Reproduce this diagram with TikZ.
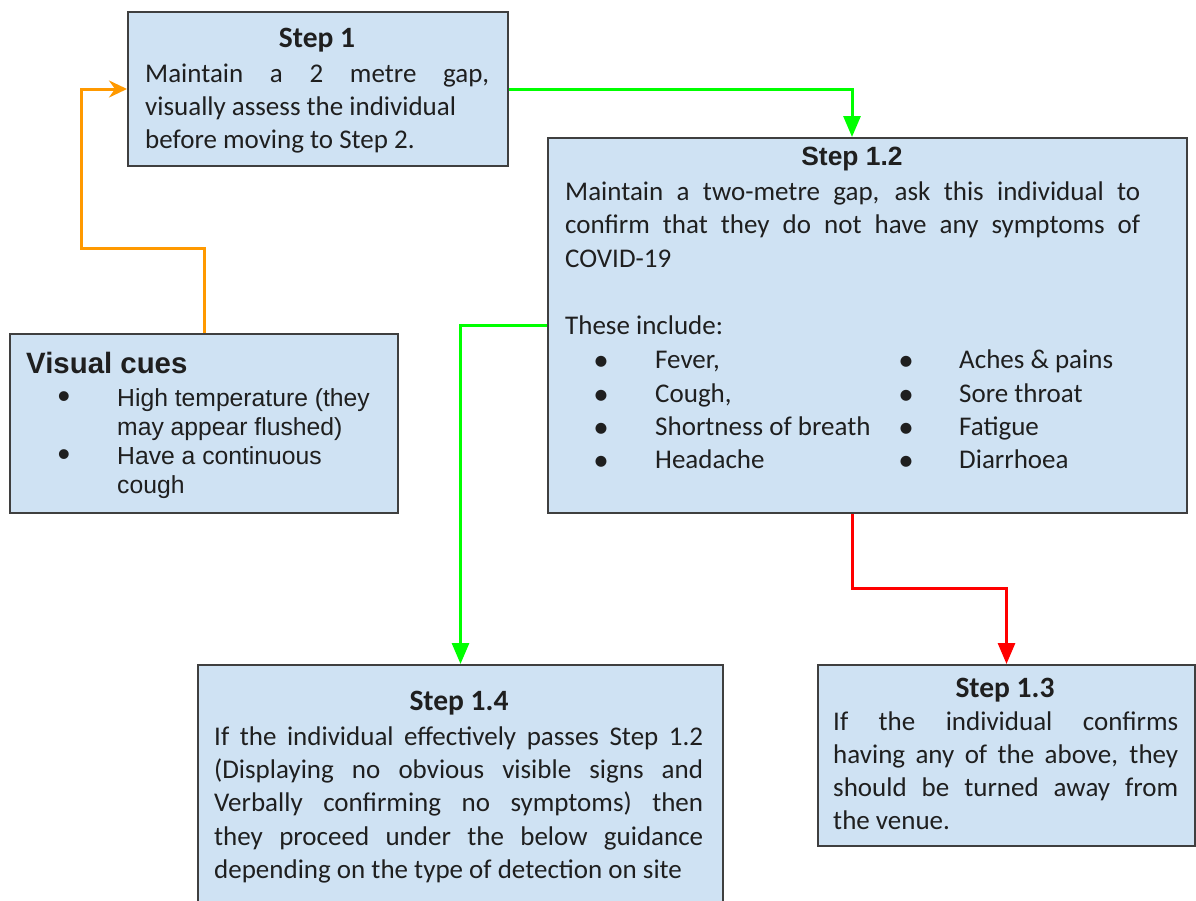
\documentclass[tikz,border=0pt]{standalone}
\usepackage{fontspec}
\setmainfont{Carlito}
\newfontfamily\arialf{Liberation Sans}
\usetikzlibrary{arrows.meta,calc}
\definecolor{boxfill}{HTML}{CFE2F3}
\definecolor{boxline}{HTML}{3F3F3F}
\definecolor{txtcol}{HTML}{1F1F1F}
\definecolor{orng}{HTML}{FF9900}
\definecolor{grn}{HTML}{00FF00}
\definecolor{rd}{HTML}{FF0000}
\newcommand\bodyfont{\fontsize{27}{33}\selectfont}
\newcommand\headfont{\bfseries\fontsize{29.5}{33}\selectfont}
\newcommand\jl[2]{\makebox[#1][s]{#2}}
\begin{document}
\begin{tikzpicture}[x=1pt,y=-1pt,
  box/.style={draw=boxline, fill=boxfill, line width=2pt, anchor=north west, inner sep=0pt},
  ln/.style={anchor=base west, inner sep=0pt, text=txtcol, font=\bodyfont},
  hd/.style={anchor=base, inner sep=0pt, text=txtcol, font=\headfont},
  cue/.style={anchor=base west, inner sep=0pt, text=txtcol, font=\arialf\fontsize{24.7}{29}\selectfont},
  cuebul/.style={anchor=base, inner sep=0pt, text=txtcol, font=\arialf\fontsize{36}{29}\selectfont},
  bul/.style={anchor=base, inner sep=0pt, text=txtcol, font=\fontsize{31}{33}\selectfont},
  conn/.style={line width=3pt, line join=miter},
  tri/.style={-{Triangle[width=17pt,length=21pt]}},
  opn/.style={-{Stealth[width=17pt,length=18pt,inset=6pt]}}]
\useasboundingbox (0,0) rectangle (1196,900);

% boxes
\node[box, minimum width=380pt, minimum height=154pt] (s1) at (127,11) {};
\node[box, minimum width=388pt, minimum height=179pt] (cues) at (9,333) {};
\node[box, minimum width=639pt, minimum height=375pt] (s12) at (547,137) {};
\node[box, minimum width=525pt, minimum height=262pt] (s14) at (197,664) {};
\node[box, minimum width=377pt, minimum height=181pt] (s13) at (817,664) {};

% Step 1
\node[hd] (s1h) at (317,47) {Step 1};
\node[ln] (s1a) at (145,82) {\jl{344pt}{Maintain a 2 metre gap,}};
\node[ln] (s1b) at (145,115) {visually assess the individual};
\node[ln] (s1c) at (145,148) {before moving to Step 2.};

% Visual cues
\node[anchor=base west, inner sep=0pt, text=txtcol, font=\arialf\bfseries\fontsize{29.4}{33}\selectfont] (cuesh) at (26,373) {Visual cues};
\node[cuebul] (cb1) at (64,408) {•};
\node[cue] (c1a) at (117,406) {High temperature (they};
\node[cue] (c1b) at (117,435) {may appear flushed)};
\node[cuebul] (cb2) at (64,466) {•};
\node[cue] (c2a) at (117,464) {Have a continuous};
\node[cue] (c2b) at (117,493) {cough};

% Step 1.2
\node[anchor=base, inner sep=0pt, text=txtcol, font=\arialf\bfseries\fontsize{26.4}{33}\selectfont] (s12h) at (852,165) {Step 1.2};
\node[ln] (s12a) at (565,200) {\jl{575pt}{Maintain a two-metre gap, ask this individual to}};
\node[ln] (s12b) at (565,233) {\jl{575pt}{confirm that they do not have any symptoms of}};
\node[ln] (s12c) at (565,267) {COVID-19};
\node[ln] (s12d) at (565,334) {These include:};
\node[bul] (b1) at (601,370) {•};
\node[ln] (i1) at (655,368) {Fever,};
\node[bul] (b2) at (601,404) {•};
\node[ln] (i2) at (655,402) {Cough,};
\node[bul] (b3) at (601,437) {•};
\node[ln] (i3) at (655,435) {Shortness of breath};
\node[bul] (b4) at (601,470) {•};
\node[ln] (i4) at (655,468) {Headache};
\node[bul] (b5) at (906,370) {•};
\node[ln] (i5) at (959,368) {Aches \& pains};
\node[bul] (b6) at (906,404) {•};
\node[ln] (i6) at (959,402) {Sore throat};
\node[bul] (b7) at (906,437) {•};
\node[ln] (i7) at (959,435) {Fatigue};
\node[bul] (b8) at (906,470) {•};
\node[ln] (i8) at (959,468) {Diarrhoea};

% Step 1.4
\node[hd] (s14h) at (459,710) {Step 1.4};
\node[ln] (s14a) at (214,745) {\jl{489pt}{If the individual effectively passes Step 1.2}};
\node[ln] (s14b) at (214,778) {\jl{489pt}{(Displaying no obvious visible signs and}};
\node[ln] (s14c) at (214,811) {\jl{489pt}{Verbally confirming no symptoms) then}};
\node[ln] (s14d) at (214,845) {\jl{489pt}{they proceed under the below guidance}};
\node[ln] (s14e) at (214,878) {depending on the type of detection on site};

% Step 1.3
\node[hd] (s13h) at (1005,697) {Step 1.3};
\node[ln] (s13a) at (833,730) {\jl{345pt}{If the individual confirms}};
\node[ln] (s13b) at (833,763) {\jl{345pt}{having any of the above, they}};
\node[ln] (s13c) at (833,796) {\jl{345pt}{should be turned away from}};
\node[ln] (s13d) at (833,829) {the venue.};

% connectors
\draw[conn, draw=orng, opn] (cues.north) |- (81,248) |- (s1.west);
\draw[conn, draw=grn, tri] (s1.east) -| ($(s12.north west)+(305,0)$);
\draw[conn, draw=grn, tri] (s12.west) -| (s14.north);
\draw[conn, draw=rd, tri] ($(s12.south west)+(305,0)$) |- ($(s13.north)+(0,-76)$) -- (s13.north);
\end{tikzpicture}
\end{document}
